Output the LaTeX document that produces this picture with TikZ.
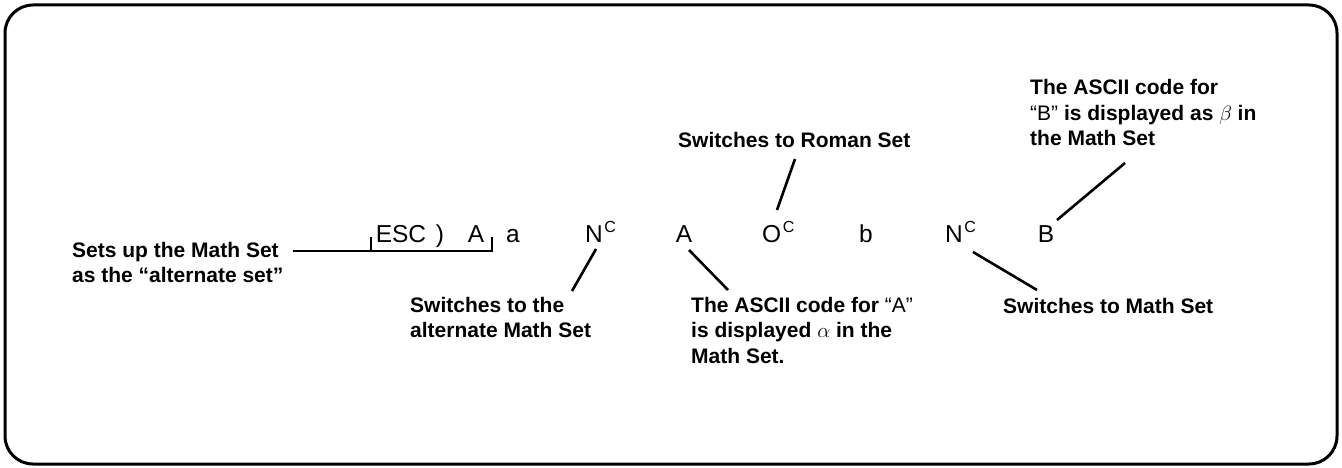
\documentclass[tikz,border=0pt]{standalone}
\usepackage{fontspec}
\setmainfont{Liberation Sans}
\tikzset{
  x=1pt, y=-1pt,
  lab/.style={anchor=base west, inner sep=0pt, align=left,
    font=\fontsize{21}{25.5}\selectfont\bfseries},
  seq/.style={anchor=base, inner sep=0pt, font=\fontsize{24.5}{26}\selectfont},
  seqw/.style={anchor=base west, inner sep=0pt, font=\fontsize{24.5}{26}\selectfont},
  conn/.style={line width=2.6pt},
  brk/.style={line width=2pt},
  frame/.style={line width=3pt, rounded corners=28pt}
}
\newcommand{\supC}{\hspace{1.5pt}\raisebox{10pt}{\fontsize{16}{16}\selectfont C}}
\begin{document}
\begin{tikzpicture}
\useasboundingbox (0,0) rectangle (1342,468);
\draw[frame] (5,5) rectangle (1337,464);

% sequence
\node[seq] (esc) at (401,242) {ESC};
\node[seq] (par) at (440,242) {)};
\node[seq] (a1) at (476,242) {A};
\node[seq] (sa) at (513,242) {a};
\node[seqw] (n1) at (585,242) {N\supC};
\node[seq] (a2) at (684,242) {A};
\node[seqw] (o1) at (762,242) {O\supC};
\node[seq] (sb) at (866,242) {b};
\node[seqw] (n2) at (945,242) {N\supC};
\node[seq] (b1) at (1046,242) {B};

% labels (base anchor = last line's baseline)
\node[lab] (s1) at (72,282.5) {Sets up the Math Set\\as the “alternate set”};
\node[lab] (s2) at (410,337.5) {Switches to the\\alternate Math Set};
\node[lab] (s3) at (691,363) {The ASCII code for {\mdseries“A”}\\is displayed $\alpha$ in the\\Math Set.};
\node[lab] (s4) at (678,148) {Switches to Roman Set};
\node[lab] (s5) at (1030,146) {The ASCII code for\\{\mdseries“B”} is displayed as $\beta$ in\\the Math Set};
\node[lab] (s6) at (1003,313) {Switches to Math Set};

% bracket
\coordinate (s1e) at (293,251);
\coordinate (bl) at (371,251);
\coordinate (blt) at (371,237);
\coordinate (br) at (492,251);
\coordinate (brt) at (492,237);
\draw[brk] (s1e) -- (bl);
\draw[brk] (blt) -- (bl) -- (br) -- (brt);

% connectors
\coordinate (n1s) at (596,249);  \coordinate (s2t) at (572,291);
\coordinate (a2s) at (689,250);  \coordinate (s3t) at (728,290);
\coordinate (o1n) at (777,210);  \coordinate (s4b) at (795,159);
\coordinate (b1n) at (1057,220); \coordinate (s5b) at (1125,163);
\coordinate (n2s) at (973,252);  \coordinate (s6t) at (1037,290);
\draw[conn] (n1s) -- (s2t);
\draw[conn] (a2s) -- (s3t);
\draw[conn] (o1n) -- (s4b);
\draw[conn] (b1n) -- (s5b);
\draw[conn] (n2s) -- (s6t);
\end{tikzpicture}
\end{document}
